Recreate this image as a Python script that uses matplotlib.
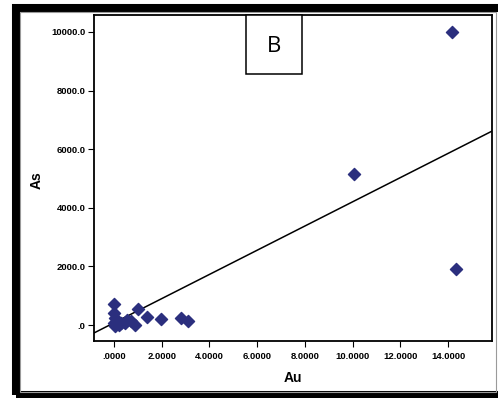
import matplotlib
matplotlib.use("Agg")
import matplotlib.pyplot as plt
import matplotlib.patches as mpatches
import numpy as np

# Data
au = [0.00, 0.00, 0.02, 0.00, 0.05, 0.20, 0.30, 0.46, 0.55, 0.70, 0.88,
      0.99, 1.37, 1.96, 2.81, 3.11, 10.07, 14.15, 14.32]
as_ = [717, 400, 240, 70, -30, 0, 60, 70, 170, 150, 0,
       560, 270, 200, 240, 130, 5140, 10000, 1910]
fit_intercept = 75.0
fit_slope = 413.0

xticks = [0, 2, 4, 6, 8, 10, 12, 14]
xticklabels = [".0000", "2.0000", "4.0000", "6.0000", "8.0000", "10.0000", "12.0000", "14.0000"]
yticks = [0, 2000, 4000, 6000, 8000, 10000]
yticklabels = [".0", "2000.0", "4000.0", "6000.0", "8000.0", "10000.0"]

W, H = 498, 398
fig = plt.figure(figsize=(W / 100, H / 100), dpi=100)

def fx(px):
    return px / W

def fy(py):
    return 1 - py / H

# outer thick frame
fig.patches.append(mpatches.Rectangle((fx(16), fy(395)), fx(520) - fx(16), fy(8) - fy(395),
                                      transform=fig.transFigure, fill=False,
                                      edgecolor="black", linewidth=5.8))
fig.patches.append(mpatches.Rectangle((fx(20), fy(392)), fx(496) - fx(20), fy(12) - fy(392),
                                      transform=fig.transFigure, fill=False,
                                      edgecolor="#9a9a9a", linewidth=0.8))

ax = fig.add_axes([fx(94), fy(341), fx(492) - fx(94), fy(15) - fy(341)])
ax.set_xlim(-0.84, 15.84)
ax.set_ylim(-546, 10580)

ax.scatter(au, as_, marker="D", s=38, color="#2b2f7e", edgecolors="#2b2f7e", zorder=3)
xl = np.array(ax.get_xlim())
ax.plot(xl, fit_intercept + fit_slope * xl, color="black", linewidth=1.1, zorder=2)

ax.set_xticks(xticks)
ax.set_xticklabels(xticklabels)
ax.set_yticks(yticks)
ax.set_yticklabels(yticklabels)
for lab in ax.get_xticklabels() + ax.get_yticklabels():
    lab.set_fontfamily("Liberation Sans")
    lab.set_fontweight("bold")
    lab.set_fontsize(6.8)
ax.tick_params(direction="out", length=4, width=0.8, pad=2)
ax.tick_params(axis="x", pad=4)

for s in ax.spines.values():
    s.set_linewidth(1.3)

ax.set_xlabel("Au", fontfamily="Liberation Sans", fontweight="bold", fontsize=10)
ax.set_ylabel("As", fontfamily="Liberation Sans", fontweight="bold", fontsize=10)
ax.xaxis.set_label_coords((293 - 94) / 398, (341 - 371) / 326)
ax.yaxis.set_label_coords((44 - 94) / 398, (341 - 180) / 326)

# "B" label box
fig.patches.append(mpatches.Rectangle((fx(246), fy(74)), fx(302) - fx(246), fy(15) - fy(74),
                                      transform=fig.transFigure, fill=True, facecolor="white",
                                      edgecolor="black", linewidth=1.1, zorder=5))
fig.text(fx(274), fy(46), "B", fontfamily="Open Sans", fontsize=16, ha="center", va="center", zorder=6)

fig.savefig("out.png", dpi=100)
